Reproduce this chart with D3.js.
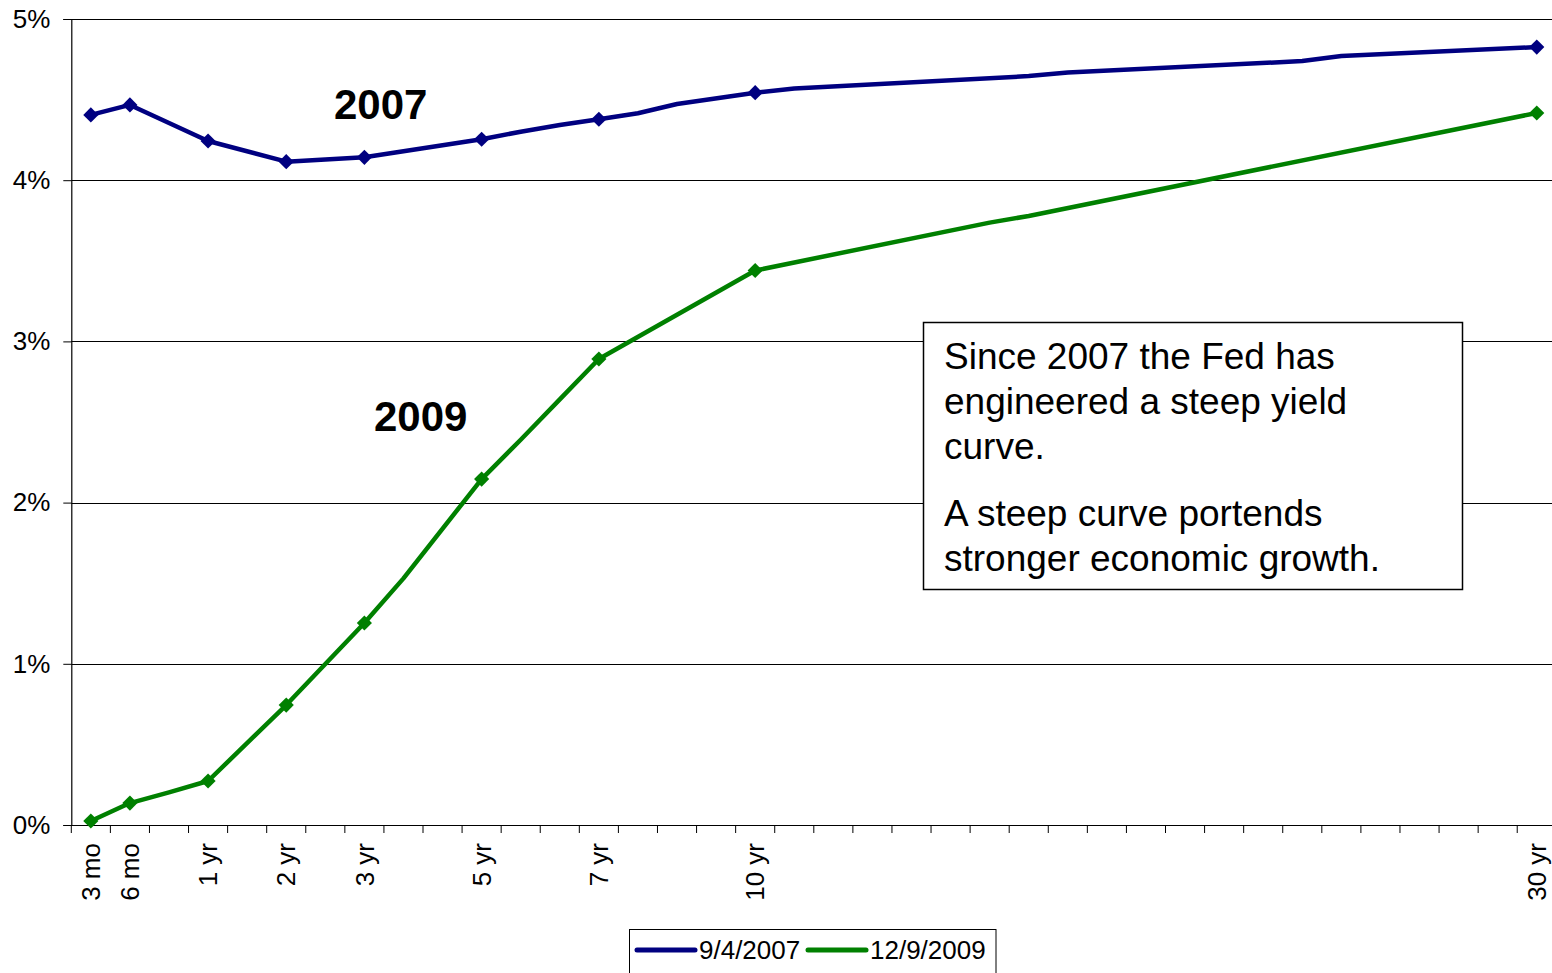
<!DOCTYPE html>
<html>
<head>
<meta charset="utf-8">
<script src="https://cdn.jsdelivr.net/npm/d3@7"></script>
<style>
  html, body { margin: 0; padding: 0; background: #fff; }
  svg { display: block; font-family: "Liberation Sans", Arial, sans-serif; }
</style>
</head>
<body>
<svg id="chart" width="1552" height="973"></svg>
<script>
// ---- data ----
const categoryLabels = ["3 mo","6 mo","","1 yr","","2 yr","","3 yr","","","5 yr","","","7 yr","","","","10 yr",
  "","","","","","","","","","","","","","","","","","","","30 yr"];
const markerIndex = [0,1,3,5,7,10,13,17,37];
const series2007 = [4.405,4.467,null,4.243,null,4.115,null,4.142,null,null,4.254,4.301,4.342,4.378,4.415,4.473,null,4.543,
  4.569,null,null,null,null,null,4.646,4.668,null,null,null,null,null,4.739,4.770,null,null,null,null,4.826];
const series2009 = [0.025,0.136,0.202,0.273,null,0.744,null,1.253,1.53,null,2.146,2.39,2.64,2.891,null,null,null,3.440,
  null,null,null,null,null,3.737,3.778,null,null,null,null,null,null,null,null,null,null,null,null,4.417];
const seriesNames = ["9/4/2007","12/9/2009"];
const seriesColors = ["#000080","#008000"];
const yTicks = [0,1,2,3,4,5];
const noteLines1 = ["Since 2007 the Fed has","engineered a steep yield","curve."];
const noteLines2 = ["A steep curve portends","stronger economic growth."];

(function () {
// ---- layout ----
const svg = d3.select("#chart");
const pLeft = 71.3, pRight = 1556.3, pTop = 19, pBottom = 825;
const x = d3.scaleBand().domain(d3.range(categoryLabels.length)).range([pLeft, pRight]).padding(0);
const y = d3.scaleLinear().domain([0,5]).range([pBottom, pTop]);
const cx = i => x(i) + x.bandwidth()/2;
const small = 26;

// gridlines
svg.append("g").selectAll("line").data(yTicks.filter(d => d > 0)).join("line")
  .attr("x1", pLeft).attr("x2", 1552)
  .attr("y1", d => Math.round(y(d)) + 0.5).attr("y2", d => Math.round(y(d)) + 0.5)
  .attr("stroke", "#000").attr("stroke-width", 1);

// y axis
const yAxis = svg.append("g").attr("transform", `translate(${pLeft},0)`)
  .call(d3.axisLeft(y).tickValues(yTicks).tickFormat(d => d + "%").tickSize(8).tickPadding(13));
yAxis.select(".domain").attr("stroke", "#000").attr("stroke-width", 1.2);
yAxis.selectAll(".tick line").attr("stroke", "#000");
yAxis.selectAll("text").attr("font-size", small).attr("fill", "#000")
  .attr("font-family", "'Liberation Sans', Arial, sans-serif");

// x axis
const xAxis = svg.append("g").attr("transform", `translate(0,${pBottom})`)
  .call(d3.axisBottom(x).tickFormat(i => categoryLabels[i]).tickSize(0));
xAxis.select(".domain").remove();
xAxis.append("line").attr("x1", pLeft).attr("x2", 1552).attr("y1", 0.5).attr("y2", 0.5)
  .attr("stroke", "#000").attr("stroke-width", 1.2);
xAxis.selectAll(".bnd").data(d3.range(categoryLabels.length + 1)).join("line")
  .attr("class", "bnd")
  .attr("x1", i => pLeft + i * x.step()).attr("x2", i => pLeft + i * x.step())
  .attr("y1", 0).attr("y2", 8).attr("stroke", "#000");
xAxis.selectAll(".tick text")
  .attr("font-size", small).attr("fill", "#000")
  .attr("font-family", "'Liberation Sans', Arial, sans-serif")
  .attr("transform", "rotate(-90)")
  .attr("text-anchor", "end")
  .attr("x", -18).attr("y", 0).attr("dy", "0.35em");

// lines
const line = d3.line().x(d => cx(d.i)).y(d => y(d.v));
[series2007, series2009].forEach((s, k) => {
  const pts = s.map((v, i) => ({i, v})).filter(d => d.v !== null);
  svg.append("path").datum(pts).attr("d", line)
    .attr("fill", "none").attr("stroke", seriesColors[k]).attr("stroke-width", 4.5)
    .attr("stroke-linejoin", "round");
  svg.append("g").selectAll("path").data(markerIndex.map(i => ({i, v: s[i]}))).join("path")
    .attr("d", d3.symbol(d3.symbolSquare, 115))
    .attr("transform", d => `translate(${cx(d.i)},${y(d.v)}) rotate(45)`)
    .attr("fill", seriesColors[k]);
});

// series labels
svg.append("text").attr("x", 334).attr("y", 119).attr("font-size", 42).attr("font-weight", "bold")
  .attr("fill", "#000").text("2007");
svg.append("text").attr("x", 374).attr("y", 431).attr("font-size", 42).attr("font-weight", "bold")
  .attr("fill", "#000").text("2009");

// note box
svg.append("rect").attr("x", 923.5).attr("y", 322.5).attr("width", 539).attr("height", 267)
  .attr("fill", "#fff").attr("stroke", "#000").attr("stroke-width", 1.5);
const note = svg.append("g").attr("font-size", 37).attr("fill", "#000");
noteLines1.forEach((t, j) => note.append("text").attr("x", 944).attr("y", 369 + j * 45).text(t));
noteLines2.forEach((t, j) => note.append("text").attr("x", 944).attr("y", 526 + j * 45).text(t));

// legend
const lg = svg.append("g");
lg.append("rect").attr("x", 629.5).attr("y", 929.5).attr("width", 366.5).attr("height", 60)
  .attr("fill", "#fff").attr("stroke", "#000").attr("stroke-width", 1);
const legendPos = [[637, 699], [808, 870]];
seriesNames.forEach((n, k) => {
  lg.append("line").attr("x1", legendPos[k][0]).attr("x2", legendPos[k][0] + 58)
    .attr("y1", 950).attr("y2", 950).attr("stroke", seriesColors[k]).attr("stroke-width", 5)
    .attr("stroke-linecap", "round");
  lg.append("text").attr("x", legendPos[k][1]).attr("y", 959).attr("font-size", small)
    .attr("fill", "#000").text(n);
});
})();
</script>
</body>
</html>
